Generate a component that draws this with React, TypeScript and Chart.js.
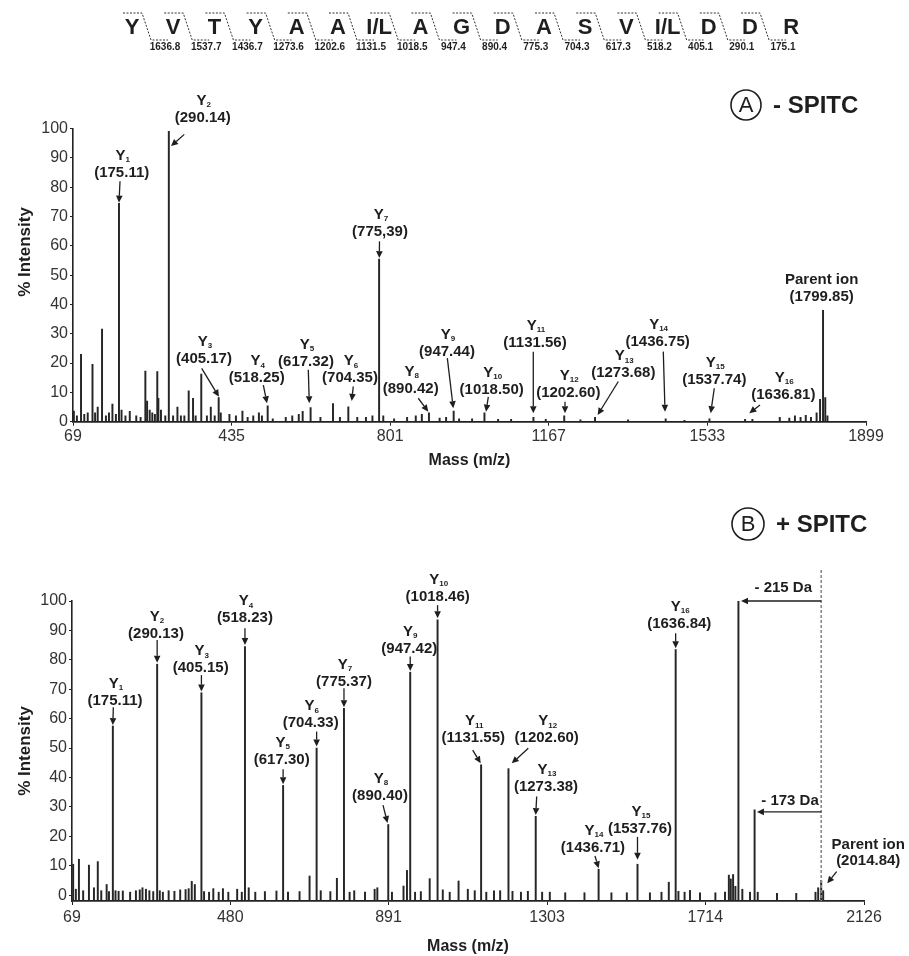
import { useEffect, useRef } from 'react';
import { Chart, registerables } from 'chart.js';
Chart.register(...registerables);

// ---------------- data ----------------
const SEQUENCE = ['Y', 'V', 'T', 'Y', 'A', 'A', 'I/L', 'A', 'G', 'D', 'A', 'S', 'V', 'I/L', 'D', 'D', 'R'];
const FRAGMENT_MASSES = ['1636.8', '1537.7', '1436.7', '1273.6', '1202.6', '1131.5', '1018.5', '947.4', '890.4', '775.3', '704.3', '617.3', '518.2', '405.1', '290.1', '175.1'];

const A_TICKS = [69, 435, 801, 1167, 1533, 1899];
const B_TICKS = [69, 480, 891, 1303, 1714, 2126];
const Y_TICKS = [0, 10, 20, 30, 40, 50, 60, 70, 80, 90, 100];

// Panel A (- SPITC) spectrum: m/z and % intensity
const A_MZ = [71, 78, 87.5, 95, 103, 114, 120, 126, 136, 145, 152, 160, 168, 175.11, 181, 190, 200, 215, 225, 236, 240, 246, 252, 258, 263.5, 266, 272, 282, 290.14, 300, 310, 318, 326, 336, 346, 352, 365, 378, 387, 396, 405.17, 410, 430, 445, 460, 472, 485, 498, 505, 518.25, 530, 560, 575, 590, 599, 617.32, 640, 669, 685, 704.35, 725, 745, 760, 775.39, 785, 810, 840, 860, 874, 890.42, 915, 930, 947.44, 960, 990, 1018.5, 1050, 1080, 1131.56, 1160, 1202.6, 1240, 1273.68, 1350, 1436.75, 1480, 1537.74, 1620, 1636.81, 1700, 1722, 1735, 1748, 1760, 1772, 1785, 1793, 1799.85, 1805, 1810];
const A_INT = [3.6, 2, 23, 2.5, 3, 19.6, 3, 5, 31.6, 2, 3, 6, 2.5, 74.5, 4, 2, 3.5, 2, 1.5, 17.3, 7, 4, 3, 2.5, 17.1, 8, 4, 2, 99, 2, 5, 2, 2, 10.5, 8, 2, 16.2, 2, 5, 2, 8.2, 3, 2.5, 2, 3.6, 1.5, 2, 3, 2, 5.4, 1, 1.5, 2, 2.5, 3.5, 4.8, 1.5, 6.2, 1.5, 5.1, 1.5, 1.5, 2, 55.5, 2, 1, 1.5, 2, 2.5, 3, 1.2, 1.5, 3.6, 1, 1, 3, 0.8, 0.8, 1.5, 0.8, 2, 0.6, 1.5, 0.6, 1, 0.5, 1, 0.8, 0.8, 1.5, 1.2, 2, 1.5, 2.2, 1.5, 3, 7.6, 38, 8.2, 2];

// Panel B (+ SPITC) spectrum
const B_MZ = [72, 79, 87, 98, 113, 126, 136, 145, 159, 165, 175.11, 182, 190, 201, 220, 235, 245, 252, 261, 270, 280, 290.13, 297, 305, 320, 335, 350, 364, 372, 380, 388, 405.15, 412, 425, 436, 450, 461, 475, 498, 510, 518.23, 528, 545, 570, 600, 617.3, 630, 660, 686, 704.33, 715, 740, 757, 775.37, 790, 802, 830, 855, 862, 890.4, 900, 930, 939, 947.42, 960, 975, 998, 1018.46, 1032, 1050, 1073, 1097, 1115, 1131.55, 1145, 1165, 1181, 1202.6, 1213, 1235, 1253, 1273.38, 1290, 1310, 1350, 1400, 1436.71, 1470, 1510, 1537.76, 1570, 1600, 1619, 1636.84, 1644, 1660, 1674, 1700, 1740, 1765, 1775, 1780, 1786, 1792, 1799.84, 1810, 1830, 1841.84, 1850, 1900, 1950, 2000, 2007, 2014.84, 2020];
const B_INT = [10.5, 2, 12.2, 1.5, 10.2, 2.5, 11.4, 1.5, 3.6, 1.2, 57.5, 1.5, 1.3, 1.4, 1, 1.5, 1.8, 2.5, 2, 1.5, 1.2, 78.5, 1.5, 1, 1.5, 1.3, 1.8, 1.9, 2.2, 4.7, 3.6, 68.8, 1.2, 1, 2.2, 1, 2.2, 1, 2, 1, 84.5, 2.5, 1, 1.2, 1.4, 37.3, 1, 1.2, 6.5, 50, 1.5, 1.2, 5.7, 63.5, 1, 1.5, 1, 2, 2.5, 24, 1, 3.1, 8.4, 75.8, 1, 1.2, 5.6, 93.6, 1.8, 1, 4.8, 2, 1.5, 44.3, 1, 1.5, 1.5, 43, 1.3, 1, 1.3, 26.8, 1, 1, 0.8, 0.8, 8.8, 0.8, 0.8, 10.5, 0.8, 1, 4.4, 83.5, 1.3, 1, 1.6, 0.8, 0.8, 1, 6.8, 5.5, 7, 3, 100, 2, 1, 29, 1, 0.6, 0.6, 1, 2.5, 5, 1.5];

// Annotations: [ion number, mass text]
const A_IONS: [string, string][] = [['1', '175.11'], ['2', '290.14'], ['3', '405.17'], ['4', '518.25'], ['5', '617.32'], ['6', '704.35'], ['7', '775,39'], ['8', '890.42'], ['9', '947.44'], ['10', '1018.50'], ['11', '1131.56'], ['12', '1202.60'], ['13', '1273.68'], ['14', '1436.75'], ['15', '1537.74'], ['16', '1636.81']];
const B_IONS: [string, string][] = [['1', '175.11'], ['2', '290.13'], ['3', '405.15'], ['4', '518.23'], ['5', '617.30'], ['6', '704.33'], ['7', '775.37'], ['8', '890.40'], ['9', '947.42'], ['10', '1018.46'], ['11', '1131.55'], ['12', '1202.60'], ['13', '1273.38'], ['14', '1436.71'], ['15', '1537.76'], ['16', '1636.84']];

// Annotation placement in data units: [label m/z, label %, arrow from m/z, from %, arrow to m/z, to %]
const A_PLACE = [
  [181.4, 84.9, 177.5, 82.0, 175.1, 74.7],
  [368.3, 103.7, 325.8, 98.0, 295.2, 94.0],
  [371.3, 21.3, 366.0, 18.2, 405.9, 8.5],
  [492.9, 14.8, 508.2, 12.5, 516.7, 6.3],
  [606.7, 20.5, 612.0, 17.7, 614.3, 6.3],
  [708.2, 14.8, 715.8, 12.0, 712.2, 7.1],
  [777.5, 64.9, 776.3, 61.5, 775.8, 55.8],
  [848.3, 11.1, 865.8, 8.0, 888.9, 3.4],
  [932.1, 23.9, 932.8, 21.7, 946.6, 4.6],
  [1035.2, 10.8, 1027.4, 8.5, 1022.1, 3.4],
  [1135.2, 26.8, 1131.2, 23.9, 1131.2, 2.9],
  [1212.0, 9.7, 1204.4, 6.8, 1204.4, 2.9],
  [1338.9, 16.5, 1327.4, 13.7, 1279.8, 2.3],
  [1418.1, 27.3, 1431.2, 23.9, 1435.2, 3.4],
  [1548.9, 14.2, 1548.9, 11.4, 1540.6, 2.9],
  [1708.2, 9.1, 1654.4, 5.7, 1629.7, 2.9],
];
const B_PLACE = [
  [180.7, 66.1, 176.3, 63.9, 175.11, 57.8],
  [287.2, 88.8, 290.13, 86.7, 290.13, 79.0],
  [403.3, 77.1, 405.15, 74.8, 405.15, 69.2],
  [518.3, 94.1, 518.23, 90.7, 518.23, 85.0],
  [613.6, 45.9, 617.3, 42.8, 617.3, 37.7],
  [689.0, 58.4, 704.33, 55.6, 704.33, 50.5],
  [775.4, 72.6, 775.37, 70.3, 775.37, 63.9],
  [868.9, 33.7, 876.7, 30.6, 888.5, 24.5],
  [945.0, 83.6, 947.42, 81.1, 947.42, 76.2],
  [1018.8, 101.5, 1018.46, 98.6, 1018.46, 94.1],
  [1111.3, 53.3, 1109.7, 49.3, 1130.5, 44.8],
  [1301.9, 53.3, 1254.1, 49.9, 1211.0, 44.8],
  [1300.1, 36.9, 1275.9, 33.5, 1273.4, 27.2],
  [1422.1, 16.0, 1427.3, 13.3, 1436.7, 9.1],
  [1544.2, 22.5, 1537.7, 19.8, 1537.7, 12.0],
  [1646.2, 92.2, 1636.84, 89.0, 1636.84, 83.9],
];
const A_PARENT = { mass: '1799.85', lx: 1796.7, ly: 42.7 };
const B_PARENT = { mass: '2014.84', lx: 2137, ly: 11.7, ax0: 2054.9, ay0: 8.0, ax1: 2030.6, ay1: 4.0 };
const B_PARENT_MZ = 2014.84;
const B_LOSSES = [
  { text: '- 215 Da', tx: 1916.3, ty: 104.3, arrowTo: 1806.5, ay: 100.0 },
  { text: '- 173 Da', tx: 1933.8, ty: 32.0, arrowTo: 1848, ay: 28.3 },
];

// ---------------- drawing helpers ----------------
const FONT = '"Liberation Sans", Arial, sans-serif';
const INK = '#1e1e1e';

function drawArrow(ctx: CanvasRenderingContext2D, x0: number, y0: number, x1: number, y1: number) {
  const ang = Math.atan2(y1 - y0, x1 - x0);
  const L = 7, W = 3.3;
  const bx = x1 - L * Math.cos(ang), by = y1 - L * Math.sin(ang);
  ctx.beginPath();
  ctx.moveTo(x0, y0);
  ctx.lineTo(bx, by);
  ctx.stroke();
  ctx.beginPath();
  ctx.moveTo(x1, y1);
  ctx.lineTo(bx + W * Math.sin(ang), by - W * Math.cos(ang));
  ctx.lineTo(bx - W * Math.sin(ang), by + W * Math.cos(ang));
  ctx.closePath();
  ctx.fill();
}

function drawIonLabel(ctx: CanvasRenderingContext2D, cx: number, cy: number, sub: string, mass: string) {
  ctx.textBaseline = 'middle';
  ctx.textAlign = 'center';
  ctx.font = `bold 15px ${FONT}`;
  ctx.fillText(`(${mass})`, cx, cy);
  const yY = cy - 17;
  const wY = ctx.measureText('Y').width;
  ctx.font = `bold 8px ${FONT}`;
  const wS = ctx.measureText(sub).width;
  const x0 = cx - (wY + wS) / 2 + 1;
  ctx.textAlign = 'left';
  ctx.font = `bold 15px ${FONT}`;
  ctx.fillText('Y', x0, yY);
  ctx.font = `bold 8px ${FONT}`;
  ctx.fillText(sub, x0 + wY, yY + 4);
}

function drawYTitle(ctx: CanvasRenderingContext2D, x: number, y: number) {
  ctx.save();
  ctx.translate(x, y);
  ctx.rotate(-Math.PI / 2);
  ctx.textAlign = 'center';
  ctx.textBaseline = 'middle';
  ctx.font = `bold 17px ${FONT}`;
  ctx.fillStyle = INK;
  ctx.fillText('% Intensity', 0, 0);
  ctx.restore();
}

function drawPanelTag(ctx: CanvasRenderingContext2D, cx: number, cy: number, r: number, letter: string, text: string) {
  ctx.save();
  ctx.strokeStyle = INK;
  ctx.fillStyle = INK;
  ctx.lineWidth = 1.6;
  ctx.beginPath();
  ctx.arc(cx, cy, r, 0, Math.PI * 2);
  ctx.stroke();
  ctx.textAlign = 'center';
  ctx.textBaseline = 'middle';
  ctx.font = `22px ${FONT}`;
  ctx.fillText(letter, cx, cy + 1);
  ctx.textAlign = 'left';
  ctx.font = `bold 24px ${FONT}`;
  ctx.fillText(text, cx + r + 12, cy + 1);
  ctx.restore();
}

function drawSequence(ctx: CanvasRenderingContext2D) {
  const x0 = 132, step = 41.2;
  ctx.save();
  ctx.fillStyle = INK;
  ctx.textAlign = 'center';
  ctx.textBaseline = 'middle';
  ctx.font = `bold 22px ${FONT}`;
  SEQUENCE.forEach((aa, i) => ctx.fillText(aa, x0 + i * step, 28));
  ctx.strokeStyle = '#333';
  ctx.lineWidth = 1;
  ctx.setLineDash([2, 1.5]);
  FRAGMENT_MASSES.forEach((m, i) => {
    const x = x0 + i * step;
    ctx.beginPath();
    ctx.moveTo(x - 9, 13);
    ctx.lineTo(x + 10, 13);
    ctx.lineTo(x + 19, 40);
    ctx.lineTo(x + 36, 40);
    ctx.stroke();
  });
  ctx.setLineDash([]);
  ctx.font = `bold 10px ${FONT}`;
  FRAGMENT_MASSES.forEach((m, i) => ctx.fillText(m, x0 + i * step + 33, 47));
  ctx.restore();
}

type Panel = 'A' | 'B';

function makeConfig(panel: Panel): any {
  const isA = panel === 'A';
  const mz = isA ? A_MZ : B_MZ;
  const inten = isA ? A_INT : B_INT;
  const ticks = isA ? A_TICKS : B_TICKS;
  const yMin = isA ? 0 : -2;
  const ions = isA ? A_IONS : B_IONS;
  const place = isA ? A_PLACE : B_PLACE;

  const annotate = {
    id: 'annot' + panel,
    afterDraw(chart: any) {
      const ctx: CanvasRenderingContext2D = chart.ctx;
      const xs = chart.scales.x, ys = chart.scales.y;
      const px = (v: number) => xs.getPixelForValue(v);
      const py = (v: number) => ys.getPixelForValue(v);
      ctx.save();
      ctx.fillStyle = INK;
      ctx.strokeStyle = INK;
      ctx.lineWidth = 1.3;
      ions.forEach(([sub, mass], i) => {
        const p = place[i];
        drawIonLabel(ctx, px(p[0]), py(p[1]), sub, mass);
        drawArrow(ctx, px(p[2]), py(p[3]), px(p[4]), py(p[5]));
      });
      ctx.textAlign = 'center';
      ctx.textBaseline = 'middle';
      if (isA) {
        ctx.font = `bold 15px ${FONT}`;
        ctx.fillText('Parent ion', px(A_PARENT.lx), py(A_PARENT.ly) - 17);
        ctx.fillText(`(${A_PARENT.mass})`, px(A_PARENT.lx), py(A_PARENT.ly));
        drawSequence(ctx);
        drawPanelTag(ctx, 746, 105, 15, 'A', '- SPITC');
        drawYTitle(ctx, 25, 252);
      } else {
        ctx.font = `bold 15px ${FONT}`;
        ctx.fillText('Parent ion', px(B_PARENT.lx), py(B_PARENT.ly) - 16);
        ctx.fillText(`(${B_PARENT.mass})`, px(B_PARENT.lx), py(B_PARENT.ly));
        drawArrow(ctx, px(B_PARENT.ax0), py(B_PARENT.ay0), px(B_PARENT.ax1), py(B_PARENT.ay1));
        // dashed reference line at parent ion
        const xd = px(B_PARENT_MZ);
        ctx.save();
        ctx.strokeStyle = '#8a8a8a';
        ctx.lineWidth = 1.6;
        ctx.setLineDash([3, 2]);
        ctx.beginPath();
        ctx.moveTo(xd, py(110.5));
        ctx.lineTo(xd, py(yMin));
        ctx.stroke();
        ctx.restore();
        B_LOSSES.forEach((l) => {
          ctx.font = `bold 15px ${FONT}`;
          ctx.fillText(l.text, px(l.tx), py(l.ty));
          drawArrow(ctx, xd, py(l.ay), px(l.arrowTo), py(l.ay));
        });
        drawPanelTag(ctx, 748, 54, 16, 'B', '+ SPITC');
        drawYTitle(ctx, 25, 281);
      }
      ctx.restore();
    },
  };

  const layout = isA
    ? { top: 128.5, left: 0, right: 43, bottom: 1, xh: 47.3, yw: 73 }
    : { top: 131, left: 0, right: 45, bottom: 1.3, xh: 53.7, yw: 72 };

  return {
    type: 'bar',
    data: {
      datasets: [
        {
          data: mz.map((m, i) => ({ x: m, y: inten[i] })),
          backgroundColor: '#262626',
          borderWidth: 0,
          barThickness: 1.3,
          grouped: false,
          base: yMin,
        },
      ],
    },
    options: {
      responsive: false,
      animation: false,
      events: [],
      layout: { padding: { top: layout.top, left: layout.left, right: layout.right, bottom: layout.bottom } },
      plugins: { legend: { display: false }, tooltip: { enabled: false } },
      scales: {
        x: {
          type: 'linear',
          min: ticks[0],
          max: ticks[ticks.length - 1],
          offset: false,
          afterBuildTicks: (s: any) => {
            s.ticks = ticks.map((v) => ({ value: v }));
          },
          afterFit: (s: any) => {
            s.height = layout.xh;
          },
          ticks: {
            callback: (v: any) => String(v),
            font: { family: FONT, size: 16 },
            color: '#333',
            padding: isA ? 1 : 3,
            maxRotation: 0,
            autoSkip: false,
          },
          grid: { display: true, drawOnChartArea: false, drawTicks: true, tickLength: 4, color: '#222', offset: false },
          border: { display: true, color: '#222', width: 1.8 },
          title: {
            display: true,
            text: 'Mass (m/z)',
            font: { family: FONT, size: 16, weight: 'bold', lineHeight: 1 },
            color: INK,
            padding: { top: 0, bottom: 0 },
          },
        },
        y: {
          type: 'linear',
          min: yMin,
          max: 100,
          afterBuildTicks: (s: any) => {
            s.ticks = Y_TICKS.map((v) => ({ value: v }));
          },
          afterFit: (s: any) => {
            s.width = layout.yw;
          },
          ticks: {
            callback: (v: any) => String(v),
            font: { family: FONT, size: 16 },
            color: '#333',
            padding: 2,
            autoSkip: false,
          },
          grid: { display: true, drawOnChartArea: false, drawTicks: true, tickLength: 3, color: '#222' },
          border: { display: true, color: '#222', width: 1.6 },
        },
      },
    },
    plugins: [annotate],
  };
}

export default function App() {
  const refA = useRef<HTMLCanvasElement>(null);
  const refB = useRef<HTMLCanvasElement>(null);
  useEffect(() => {
    const a = new Chart(refA.current!, makeConfig('A'));
    const b = new Chart(refB.current!, makeConfig('B'));
    return () => {
      a.destroy();
      b.destroy();
    };
  }, []);
  return (
    <div style={{ position: 'absolute', left: 0, top: 0, width: 909, height: 956, background: '#fff' }}>
      <canvas ref={refA} width={909} height={470} style={{ position: 'absolute', left: 0, top: 0, width: 909, height: 470 }} />
      <canvas ref={refB} width={909} height={486} style={{ position: 'absolute', left: 0, top: 470, width: 909, height: 486 }} />
    </div>
  );
}
